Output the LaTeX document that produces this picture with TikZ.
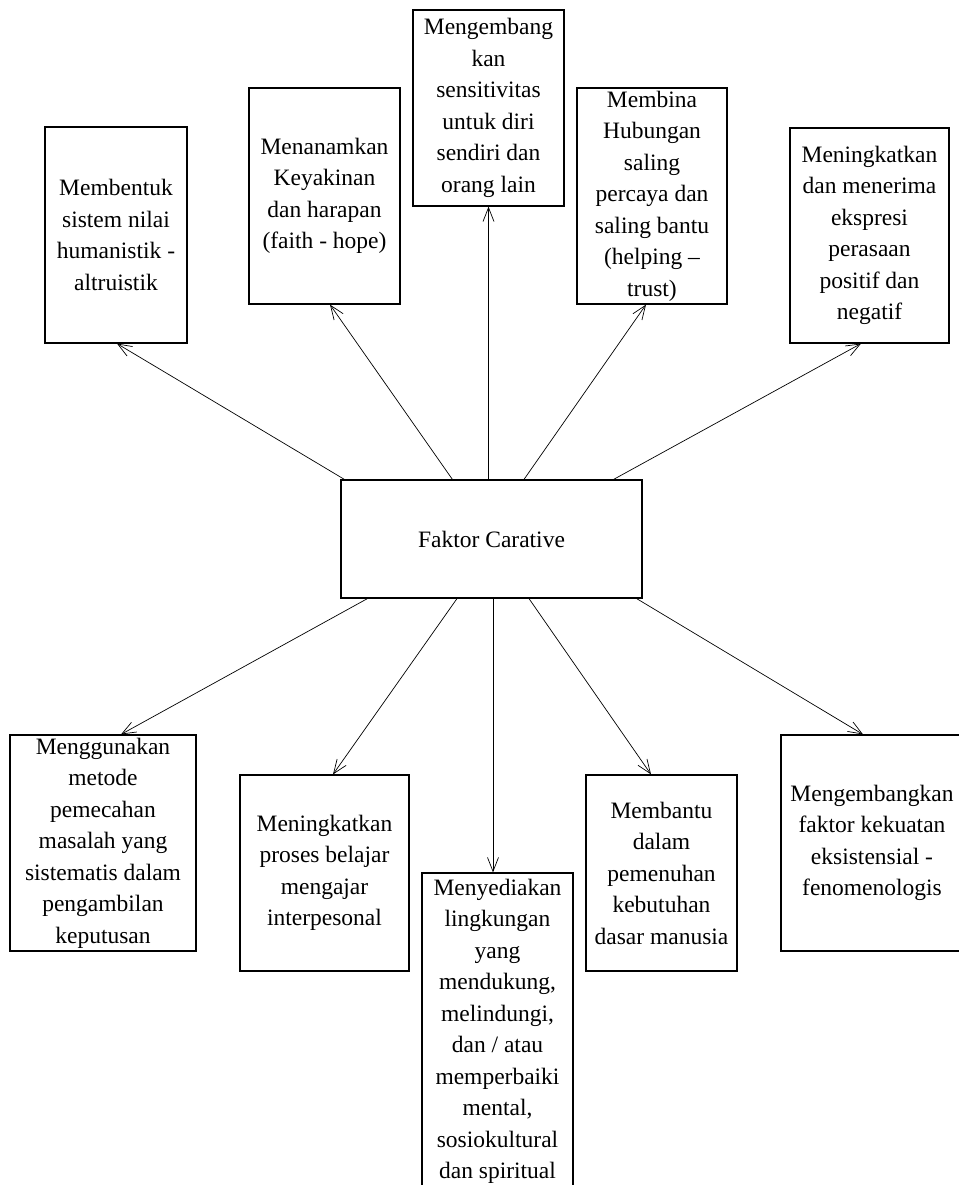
\documentclass[tikz,border=0pt]{standalone}
\usepackage{fontspec}
\setmainfont{Liberation Serif}
\usetikzlibrary{arrows.meta}

\begin{document}
\begin{tikzpicture}[x=1pt,y=-1pt,
  kotak/.style={draw, line width=1.2pt, inner sep=2pt, align=center,
    font=\fontsize{23.5}{31.5}\selectfont},
  panah/.style={-{Straight Barb[length=14pt,width=11pt]}, line width=0.7pt}]
\useasboundingbox (0,0) rectangle (958,1185);

\node (0) at (491.5,539) [kotak, minimum width=301, minimum height=118] {Faktor Carative};

% atas
\node (1) at (116,235) [kotak, minimum width=142, minimum height=216] {Membentuk\\sistem nilai\\humanistik -\\altruistik};
\node (2) at (324.5,196) [kotak, minimum width=151, minimum height=216] {Menanamkan\\Keyakinan\\dan harapan\\(faith - hope)};
\node (3) at (488.5,108) [kotak, minimum width=151, minimum height=196] {Mengembang\\kan\\sensitivitas\\untuk diri\\sendiri dan\\orang lain};
\node (4) at (652,196) [kotak, minimum width=150, minimum height=216] {Membina\\Hubungan\\saling\\percaya dan\\saling bantu\\(helping --\\trust)};
\node (5) at (869.5,235.5) [kotak, minimum width=159, minimum height=215] {Meningkatkan\\dan menerima\\ekspresi\\perasaan\\positif dan\\negatif};

% bawah
\node (6) at (103,843) [kotak, minimum width=186, minimum height=216] {Menggunakan\\metode\\pemecahan\\masalah yang\\sistematis dalam\\pengambilan\\keputusan};
\node (7) at (324.5,873) [kotak, minimum width=169, minimum height=196] {Meningkatkan\\proses belajar\\mengajar\\interpesonal};
\node (8) at (497.5,1031.5) [kotak, minimum width=151, minimum height=317] {Menyediakan\\lingkungan\\yang\\mendukung,\\melindungi,\\dan / atau\\memperbaiki\\mental,\\sosiokultural\\dan spiritual};
\node (9) at (661.5,873) [kotak, minimum width=151, minimum height=196] {Membantu\\dalam\\pemenuhan\\kebutuhan\\dasar manusia};
\node (10) at (872,843) [kotak, minimum width=182, minimum height=216] {Mengembangkan\\faktor kekuatan\\eksistensial -\\fenomenologis};

\path
([xshift=4]0.north west) edge[panah] ([xshift=1]1.south)
([xshift=112]0.north west) edge[panah] ([xshift=5.5]2.south)
([xshift=-3]0.north) edge[panah] (3.south)
([xshift=32.5]0.north) edge[panah] ([xshift=-6]4.south)
([xshift=-29]0.north east) edge[panah] ([xshift=-8.5]5.south);
\path
([xshift=27]0.south west) edge[panah] ([xshift=18]6.north)
([xshift=-34.5]0.south) edge[panah] ([xshift=8.5]7.north)
([xshift=1.5]0.south) edge[panah] ([xshift=-4.5]8.north)
([xshift=37.5]0.south) edge[panah] ([xshift=-10.5]9.north)
([xshift=-6]0.south east) edge[panah] ([xshift=-9]10.north);
\end{tikzpicture}
\end{document}
